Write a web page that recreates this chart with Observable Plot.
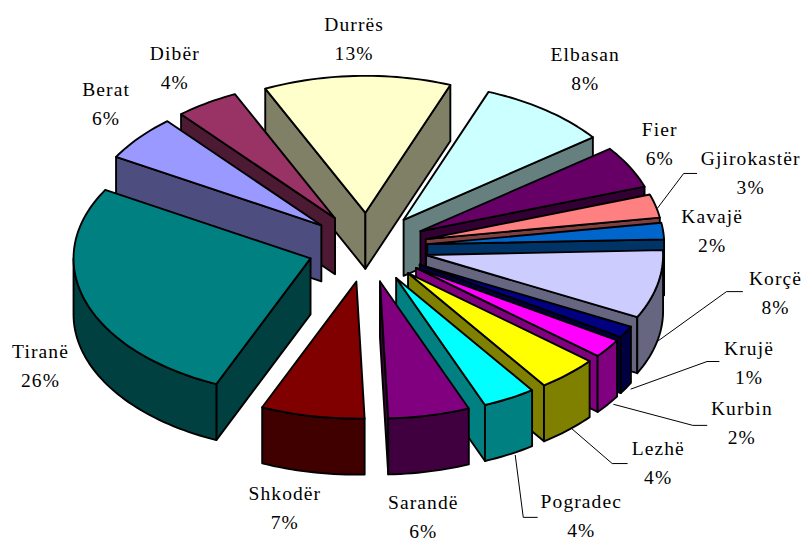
<!DOCTYPE html>
<html>
<head>
<meta charset="utf-8">
<script src="https://cdn.jsdelivr.net/npm/d3@7"></script>
<script src="https://cdn.jsdelivr.net/npm/@observablehq/plot@0.6"></script>
<style>html,body{margin:0;padding:0;background:#fff}svg{display:block}</style>
</head>
<body>
<div id="chart"></div>
<script>
// Data, clockwise from the first slice
const regions = ["Durrës","Elbasan","Fier","Gjirokastër","Kavajë","Korçë","Krujë","Kurbin","Lezhë","Pogradec","Sarandë","Shkodër","Tiranë","Berat","Dibër"];
const shares  = [13,8,6,3,2,8,1,2,4,4,6,7,26,6,4];
// Share of the turn each slice shows on the page (perspective skews it from the printed percent)
const drawnShares = [12.78,8.89,5,2.78,1.94,8.06,1.39,2.22,4.17,3.61,5.56,7.06,26.83,5.42,4.31];
const colours = ["#FFFFCC","#CCFFFF","#660066","#FF8080","#0066CC","#CCCCFF","#000080","#FF00FF","#FFFF00","#00FFFF","#800080","#800000","#008080","#9999FF","#993366"];

// Layout of the 3-D pie
const W = 803, H = 538;
const cx = 367, cy = 247;          // pie centre in the picture
const Rx = 237, Ry = 137;          // radius, across and in perspective
const startAngle = -25;            // degrees clockwise from the top
const explode = 60 / Rx;           // pull-out distance, in pie radii
const depth = 56 / Ry;             // thickness, in y units

// Label nudges from the slice rim, in px
const labelNudge = {"Durrës":[-3,-40],"Elbasan":[39,-44],"Fier":[30,-26],"Gjirokastër":[95,-35.5],"Kavajë":[49,-3],"Korçë":[118,5.5],"Krujë":[123,28],"Kurbin":[134,71.5],"Lezhë":[90,86],"Pogradec":[72,115],"Sarandë":[-6,98.5],"Shkodër":[-27.5,89],"Tiranë":[-45,62],"Berat":[-33,-36.5],"Dibër":[-32,-38]};
// Leader lines: start from rim, elbow and end from label centre, in px
const leaderNudge = {
  "Gjirokastër":[[2,2],[-67,3],[-54,3]],
  "Korçë":[[1,56],[-49,1.5],[-33,1.5]],
  "Krujë":[[5,57],[-42,1.5],[-30,1.5]],
  "Kurbin":[[6,56],[-49,5.5],[-35,5.5]],
  "Lezhë":[[4,55],[-46,3.5],[-31,3.5]],
  "Pogradec":[[6,57],[-58,4],[-44,4]]
};

const rad = d => d * Math.PI / 180;
const total = d3.sum(drawnShares);
const shade = c => { const r = d3.rgb(c); return d3.rgb(r.r * .5, r.g * .5, r.b * .5).formatHex(); };

let acc = startAngle;
const slices = regions.map((name, i) => {
  const a0 = acc, a1 = acc + drawnShares[i] / total * 360;
  acc = a1;
  const mid = (a0 + a1) / 2;
  const ox = explode * Math.sin(rad(mid)), oy = explode * Math.cos(rad(mid));
  return {name, share: shares[i], colour: colours[i], a0, a1, mid, ox, oy};
});

const rim = (s, a, z = 0) => ({x: s.ox + Math.sin(rad(a)), y: s.oy + Math.cos(rad(a)) - z});
const arc = (s, from, to, z = 0) => {
  const n = Math.max(1, Math.ceil(Math.abs(to - from) / 1.5));
  return d3.range(n + 1).map(k => rim(s, from + (to - from) * k / n, z));
};

const faces = [];
const addFace = (id, fill, pts) => {
  [...pts, pts[0]].forEach(p => faces.push({x: p.x, y: p.y, id, fill}));
};

[...slices].sort((p, q) => Math.cos(rad(q.mid)) - Math.cos(rad(p.mid))).forEach(s => {
  const apex = {x: s.ox, y: s.oy}, low = {x: s.ox, y: s.oy - depth};
  const wall = shade(s.colour);
  const radial = (a, tag) => addFace(s.name + tag, wall, [apex, rim(s, a), rim(s, a, depth), low]);
  if (Math.sin(rad(s.a0)) < 0) radial(s.a0, "-start");
  if (Math.sin(rad(s.a1)) > 0) radial(s.a1, "-end");
  const from = Math.max(s.a0, 90), to = Math.min(s.a1, 270);
  if (to > from) addFace(s.name + "-outer", wall, [...arc(s, from, to), ...arc(s, to, from, depth)]);
  addFace(s.name + "-top", s.colour, [apex, ...arc(s, s.a0, s.a1)]);
});

const ux = px => px / Rx, uy = px => -px / Ry;
const labels = slices.map(s => {
  const r = rim(s, s.mid), [dx, dy] = labelNudge[s.name];
  return {x: r.x + ux(dx), y: r.y + uy(dy), text: `${s.name}\n${s.share}%`};
});
const leaders = slices.filter(s => leaderNudge[s.name]).flatMap(s => {
  const r = rim(s, s.mid), [ldx, ldy] = labelNudge[s.name], [st, el, en] = leaderNudge[s.name];
  const lx = r.x + ux(ldx), ly = r.y + uy(ldy);
  return [
    {x: r.x + ux(st[0]), y: r.y + uy(st[1]), id: s.name},
    {x: lx + ux(el[0]), y: ly + uy(el[1]), id: s.name},
    {x: lx + ux(en[0]), y: ly + uy(en[1]), id: s.name}
  ];
});

const chart = Plot.plot({
  width: W, height: H,
  margin: 0,
  style: {background: "#fff", letterSpacing: "1.1px"},
  x: {domain: [-cx / Rx, (W - cx) / Rx], range: [0, W], axis: null},
  y: {domain: [cy / Ry, (cy - H) / Ry], range: [0, H], axis: null},
  color: {type: "identity"},
  marks: [
    Plot.line(leaders, {x: "x", y: "y", z: "id", stroke: "#000", strokeWidth: 1, strokeLinejoin: "miter"}),
    Plot.line(faces, {x: "x", y: "y", z: "id", fill: "fill", stroke: "#000", strokeWidth: 1.9}),
    Plot.text(labels, {x: "x", y: "y", text: "text", fill: "#000", fontFamily: "Liberation Serif", fontSize: 19.5, lineHeight: 1.5, textAnchor: "middle"})
  ]
});
document.getElementById("chart").appendChild(chart);
</script>
</body>
</html>
